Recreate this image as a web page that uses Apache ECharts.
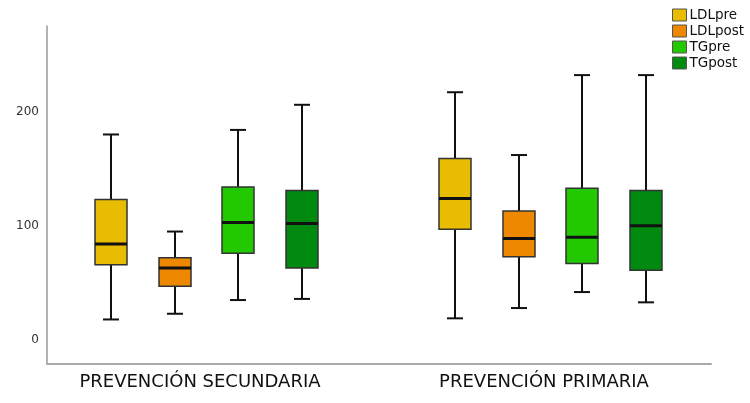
<!DOCTYPE html>
<html><head><meta charset="utf-8">
<script src="https://cdn.jsdelivr.net/npm/echarts@6/dist/echarts.min.js"></script>
<style>html,body{margin:0;padding:0;background:#fff}#c{width:750px;height:403px}</style>
</head><body><div id="c"></div>
<script>
const categories = ['PREVENCIÓN SECUNDARIA', 'PREVENCIÓN PRIMARIA'];
const seriesNames = ['LDLpre', 'LDLpost', 'TGpre', 'TGpost'];
// [min, Q1, median, Q3, max] for each category
const ldlPre  = [[18, 66, 84, 123, 180], [19, 97, 124, 159, 217]];
const ldlPost = [[23, 47, 63, 72, 95],   [28, 73, 89, 113, 162]];
const tgPre   = [[35, 76, 103, 134, 184], [42, 67, 90, 133, 232]];
const tgPost  = [[36, 63, 102, 131, 206], [33, 61, 100, 131, 232]];
const yTicks = [0, 100, 200];

const colors = ['#E8BC00', '#EE8800', '#22C800', '#008A10'];
const offsets = [-95.5, -31.5, 31.5, 95.5];
const boxW = 32, capW = 16;
const FONT = 'DejaVu Sans';

function makeSeries(name, values, i) {
  return {
    name: name,
    type: 'custom',
    itemStyle: { color: colors[i] },
    data: values.map((v, g) => [g].concat(v)),
    encode: { x: 0, y: [1, 2, 3, 4, 5] },
    renderItem: function (params, api) {
      const g = api.value(0);
      const cx = api.coord([g, 0])[0] + offsets[i];
      const y = k => api.coord([g, api.value(k)])[1];
      const yMin = y(1), yQ1 = y(2), yMed = y(3), yQ3 = y(4), yMax = y(5);
      const line = (x1, y1, x2, y2, w) => ({
        type: 'line', shape: { x1: x1, y1: y1, x2: x2, y2: y2 },
        style: { stroke: '#111', lineWidth: w }
      });
      return {
        type: 'group',
        children: [
          line(cx, yMax, cx, yQ3, 2),
          line(cx, yQ1, cx, yMin, 2),
          line(cx - capW / 2, yMax, cx + capW / 2, yMax, 2),
          line(cx - capW / 2, yMin, cx + capW / 2, yMin, 2),
          { type: 'rect', shape: { x: cx - boxW / 2, y: yQ3, width: boxW, height: yQ1 - yQ3 },
            style: { fill: colors[i], stroke: '#333', lineWidth: 1.5 } },
          line(cx - boxW / 2, yMed, cx + boxW / 2, yMed, 3)
        ]
      };
    }
  };
}

const chart = echarts.init(document.getElementById('c'));
chart.setOption({
  animation: false,
  backgroundColor: '#fff',
  grid: { left: 47, right: 39, top: 26, bottom: 39 },
  legend: {
    data: seriesNames,
    orient: 'vertical',
    left: 672, top: 8,
    icon: 'rect',
    itemWidth: 14, itemHeight: 12, itemGap: 2,
    padding: 0,
    itemStyle: { borderColor: '#555', borderWidth: 1 },
    textStyle: { color: '#111', fontFamily: FONT, fontSize: 13.5, padding: [0, 0, 0, -2] }
  },
  xAxis: {
    type: 'value',
    min: -0.4637, max: 1.4666,
    axisLine: { show: true, onZero: false, lineStyle: { color: '#aaa', width: 2 } },
    axisTick: { show: false },
    splitLine: { show: false },
    axisLabel: {
      customValues: [0, 1],
      formatter: v => categories[Math.round(v)],
      fontFamily: FONT, fontSize: 18, color: '#111', margin: 9,
      padding: [0, 13, 0, 0]
    }
  },
  yAxis: {
    type: 'value',
    min: -21, max: 275,
    axisLine: { show: true, onZero: false, lineStyle: { color: '#999', width: 1.5 } },
    axisTick: { show: false },
    splitLine: { show: false },
    axisLabel: {
      customValues: yTicks,
      fontFamily: FONT, fontSize: 12, color: '#333', margin: 8
    }
  },
  series: [
    makeSeries(seriesNames[0], ldlPre, 0),
    makeSeries(seriesNames[1], ldlPost, 1),
    makeSeries(seriesNames[2], tgPre, 2),
    makeSeries(seriesNames[3], tgPost, 3)
  ]
});
</script>
</body></html>
